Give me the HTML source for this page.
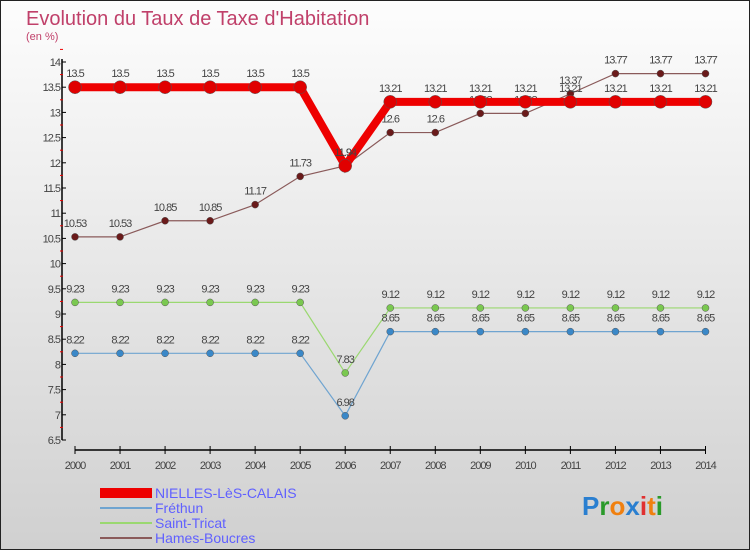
<!DOCTYPE html>
<html><head><meta charset="utf-8"><style>
body{margin:0}
#c{width:750px;height:550px;position:relative;font-family:"Liberation Sans",sans-serif;}
</style></head><body>
<div id="c">
<svg id="s" width="750" height="550" xmlns="http://www.w3.org/2000/svg">
<defs><linearGradient id="bg" x1="0" y1="0" x2="0" y2="1"><stop offset="0" stop-color="#fdfdfd"/><stop offset="1" stop-color="#d0d0d0"/></linearGradient></defs>
<rect x="0.5" y="0.5" width="749" height="549" fill="url(#bg)" stroke="#222"/>
<text x="26" y="25" font-size="20" fill="#c0406a">Evolution du Taux de Taxe d'Habitation</text>
<text x="26" y="40" font-size="11" fill="#c0406a">(en %)</text>
<g id="axes"></g><g id="series"></g>
<g>
<rect x="100" y="488" width="52" height="10" fill="#ee0000"/>
<text x="155" y="498" font-size="14" fill="#6060ff">NIELLES-LèS-CALAIS</text>
<line x1="100" y1="508" x2="152" y2="508" stroke="#6fa4d0" stroke-width="2"/>
<text x="155" y="513" font-size="14" fill="#6060ff">Fréthun</text>
<line x1="100" y1="523" x2="152" y2="523" stroke="#9ad870" stroke-width="2"/>
<text x="155" y="528" font-size="14" fill="#6060ff">Saint-Tricat</text>
<line x1="100" y1="538" x2="152" y2="538" stroke="#8a5a5a" stroke-width="2"/>
<text x="155" y="543" font-size="14" fill="#6060ff">Hames-Boucres</text>
</g>
<text x="582" y="515" font-size="26" font-weight="bold"><tspan fill="#2a7fd0">P</tspan><tspan fill="#2a9a2a">r</tspan><tspan fill="#f08010">o</tspan><tspan fill="#2a7fd0">x</tspan><tspan fill="#e03030">i</tspan><tspan fill="#f08010">t</tspan><tspan fill="#2a9a2a">i</tspan></text>
</svg></div>
<script>
const years=[2000,2001,2002,2003,2004,2005,2006,2007,2008,2009,2010,2011,2012,2013,2014];
const nielles=[13.5,13.5,13.5,13.5,13.5,13.5,11.94,13.21,13.21,13.21,13.21,13.21,13.21,13.21,13.21];
const frethun=[8.22,8.22,8.22,8.22,8.22,8.22,6.98,8.65,8.65,8.65,8.65,8.65,8.65,8.65,8.65];
const tricat=[9.23,9.23,9.23,9.23,9.23,9.23,7.83,9.12,9.12,9.12,9.12,9.12,9.12,9.12,9.12];
const hames=[10.53,10.53,10.85,10.85,11.17,11.73,11.94,12.6,12.6,12.98,12.98,13.37,13.77,13.77,13.77];
const yTicks=[6.5,7,7.5,8,8.5,9,9.5,10,10.5,11,11.5,12,12.5,13,13.5,14];
const NS="http://www.w3.org/2000/svg";
function X(i){return 75+(705.5-75)*(i)/(years.length-1);}
function Y(v){return 440-(v-6.5)/7.5*378;}
function mk(t,a,p){const e=document.createElementNS(NS,t);for(const k in a)e.setAttribute(k,a[k]);p.appendChild(e);return e;}
const ax=document.getElementById('axes');
let l=mk('line',{x1:62,y1:Y(14)-3,x2:62,y2:440,stroke:'#000','stroke-width':1.5},ax);


l=mk('line',{x1:75,y1:450,x2:705.5,y2:450,stroke:'#000','stroke-width':1.5},ax);


yTicks.forEach(v=>{mk('line',{x1:62,y1:Y(v),x2:66,y2:Y(v),stroke:'#000'},ax);
 mk('line',{x1:60,y1:Y(v+0.25),x2:63,y2:Y(v+0.25),stroke:'#e00'},ax);
 const t=mk('text',{x:60,y:Y(v)+4,'font-size':11,fill:'#444','text-anchor':'end','letter-spacing':'-1'},ax);t.textContent=v;
 
 });
years.forEach((y,i)=>{mk('line',{x1:X(i),y1:446,x2:X(i),y2:454,stroke:'#000'},ax);
 const t=mk('text',{x:X(i),y:469,'font-size':11,fill:'#444','text-anchor':'middle','letter-spacing':'-1'},ax);t.textContent=y;
 
 });
const sg=document.getElementById('series');
function series(vals,color,w,r,name,dot){
 const g=mk('g',{},sg);
 
 
 mk('polyline',{points:vals.map((v,i)=>X(i)+','+Y(v)).join(' '),fill:'none',stroke:color,'stroke-width':w},g);
 vals.forEach((v,i)=>{const c=mk('circle',{cx:X(i),cy:Y(v),r:r,fill:dot,stroke:'#555','stroke-width':0.5},g);
  
  
  const t=mk('text',{x:X(i),y:Y(v)-10,'font-size':11,fill:'#444','text-anchor':'middle','letter-spacing':'-1'},g);t.textContent=v;
  
  });
}
series(hames,'#8a5a5a',1.2,3.5,'hames-boucres-series','#6a1a1a');
series(nielles,'#ee0000',8,6.5,'nielles-series','#e00000');
series(tricat,'#9ad870',1.2,3.5,'saint-tricat-series','#7ac850');
series(frethun,'#6fa4d0',1.2,3.5,'frethun-series','#3a88c8');
</script>
</body></html>
